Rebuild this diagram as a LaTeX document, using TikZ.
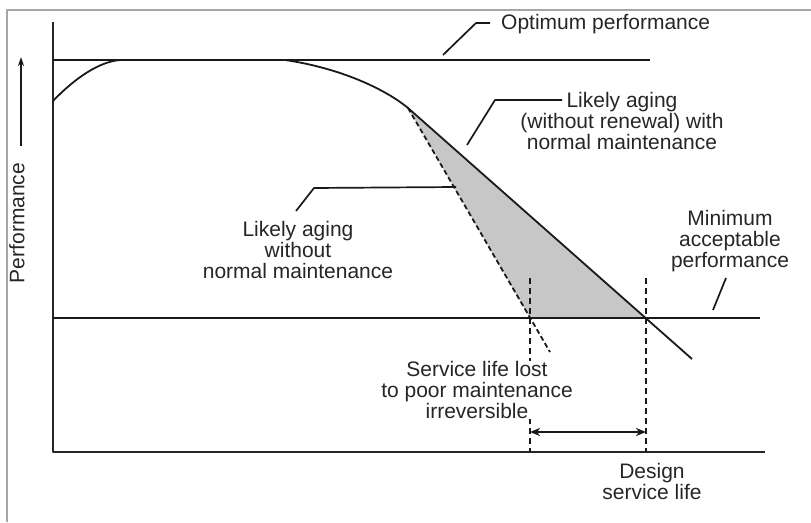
\documentclass[tikz,border=0pt]{standalone}
\usepackage{fontspec}
\setmainfont{Liberation Sans}
\usetikzlibrary{arrows.meta}

\begin{document}
\begin{tikzpicture}[x=1pt,y=-1pt,line join=round,>={Stealth[length=10pt,width=8pt,inset=3pt]}]
		\tikzstyle{note}=[inner sep=0pt,align=center,text=black!85,font=\fontsize{21}{21}\selectfont]
		\tikzstyle{axis}=[line width=2.4pt,black!85]
		\tikzstyle{limit}=[line width=2.8pt,black!90]
		\tikzstyle{aging}=[line width=1.8pt,black!90]
		\tikzstyle{leader}=[line width=1.7pt,black!90]
		\tikzstyle{guide}=[line width=1.6pt,black!90,dash pattern=on 6pt off 4pt]

		\useasboundingbox (0,0) rectangle (811,522);
		\draw[line width=2pt,black!35] (7,522) -- (7,10) -- (811,10);

		\coordinate (origin) at (53,452);
		\coordinate (ytop) at (53,22);
		\coordinate (xend) at (765,452);

		\coordinate (optL) at (53,60);
		\coordinate (optR) at (650,60);
		\coordinate (minL) at (53,318);
		\coordinate (minR) at (760,318);

		\coordinate (start) at (53,101);
		\coordinate (top1) at (121,60);
		\coordinate (top2) at (285,60);
		\coordinate (kink) at (408,108);
		\coordinate (solidEnd) at (692,359);
		\coordinate (dashEnd) at (550,352);

		\coordinate (lostMin) at (530,318);
		\coordinate (lifeMin) at (646,318);
		\coordinate (lostTop) at (530,278);
		\coordinate (lostBot) at (530,452);
		\coordinate (lifeTop) at (646,278);
		\coordinate (lifeBot) at (646,452);
		\coordinate (lostArr) at (530,432);
		\coordinate (lifeArr) at (646,432);

		% shaded loss between the two aging lines
		\fill[black!22] (kink) -- (lostMin) -- (lifeMin) -- cycle;

		\draw[axis] (ytop) -- (origin) -- (xend);
		\draw[limit] (optL) -- (optR);
		\draw[limit] (minL) -- (minR);

		\draw[aging] (start) .. controls (75,78) and (100,61) .. (top1) -- (top2)
			.. controls (340,68) and (385,89) .. (kink) -- (solidEnd);
		\draw[aging,dash pattern=on 5pt off 3pt] (kink) -- (dashEnd);

		\draw[guide] (lostTop) -- (lostBot);
		\draw[guide] (lifeTop) -- (lifeBot);
		\draw[aging,<->] (lostArr) -- (lifeArr);

		% axis label
		\coordinate (perfBot) at (21,146);
		\coordinate (perfTop) at (21,57);
		\draw[aging,-{Stealth[length=9pt,width=6pt]}] (perfBot) -- (perfTop);
		\node[note,rotate=90] (perf) at (17,223) {Performance};

		\node[note,anchor=west] (opt) at (501,24) {Optimum performance};
		\node[note] (agingNormal) at (622,121) {Likely aging\\(without renewal) with\\normal maintenance};
		\node[note] (agingWithout) at (298,250) {Likely aging\\without\\normal maintenance};
		\node[note] (minimum) at (730,241) {Minimum\\acceptable\\performance};
		\node[note,fill=white] (lost) at (477,390) {Service life lost\\to poor maintenance\\irreversible};
		\node[note] (design) at (652,481) {Design\\service life};

		% leaders
		\coordinate (optTip) at (443,55);
		\coordinate (optBend) at (476,23);
		\coordinate (optEnd) at (490,23);
		\draw[leader] (optTip) -- (optBend) -- (optEnd);

		\coordinate (normTip) at (467,145);
		\coordinate (normBend) at (495,100);
		\coordinate (normEnd) at (562,100);
		\draw[leader] (normTip) -- (normBend) -- (normEnd);

		\coordinate (withoutTip) at (296,211);
		\coordinate (withoutBend) at (314,188);
		\coordinate (withoutEnd) at (456,187);
		\draw[leader] (withoutTip) -- (withoutBend) -- (withoutEnd);

		\coordinate (minTip) at (726,278);
		\coordinate (minEnd) at (713,310);
		\draw[leader] (minTip) -- (minEnd);
	\end{tikzpicture}
\end{document}
